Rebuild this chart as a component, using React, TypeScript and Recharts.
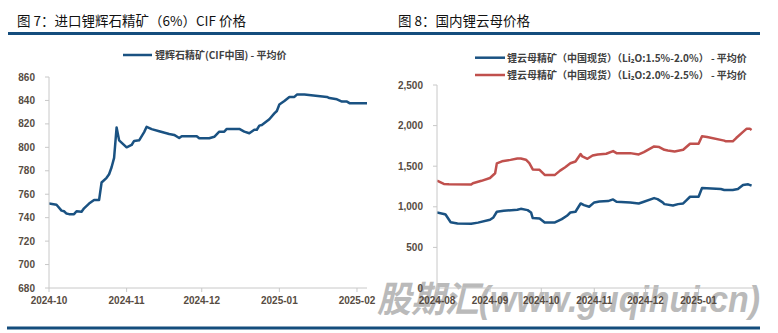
import React from 'react';
import { LineChart, Line, XAxis, YAxis } from 'recharts';

// ---------- Figure 7: imported spodumene concentrate (6%) CIF ----------
const cifDates = [
  '2024-10-01', '2024-10-04', '2024-10-06', '2024-10-07', '2024-10-08', '2024-10-09', '2024-10-11',
  '2024-10-12', '2024-10-14', '2024-10-15', '2024-10-17', '2024-10-19', '2024-10-21', '2024-10-22',
  '2024-10-24', '2024-10-25', '2024-10-26', '2024-10-27', '2024-10-28', '2024-10-29', '2024-11-01',
  '2024-11-03', '2024-11-04', '2024-11-06', '2024-11-08', '2024-11-09', '2024-11-11', '2024-11-14',
  '2024-11-18', '2024-11-20', '2024-11-22', '2024-11-23', '2024-11-29', '2024-11-30', '2024-12-04',
  '2024-12-06', '2024-12-08', '2024-12-10', '2024-12-11', '2024-12-16', '2024-12-18', '2024-12-20',
  '2024-12-22', '2024-12-23', '2024-12-24', '2024-12-25', '2024-12-28', '2024-12-30', '2024-12-31',
  '2025-01-01', '2025-01-03', '2025-01-05', '2025-01-07', '2025-01-08', '2025-01-11', '2025-01-20',
  '2025-01-21', '2025-01-24', '2025-01-26', '2025-01-28', '2025-01-29', '2025-02-05',
];
const cifValues = [
  752, 751, 746, 745.5, 743.5, 743, 743,
  745.5, 745, 748, 752, 755, 755, 770,
  774, 777, 783, 791, 817, 806, 800,
  802, 805.5, 806, 813, 817.5, 815.5, 813.7,
  811.4, 810.6, 808, 809.5, 809.5, 807.7, 807.7,
  809, 813.4, 813.4, 815.7, 815.7, 813.4, 812,
  815, 815, 818.5, 819, 824, 829, 831,
  836.5, 839.5, 843, 843, 845, 845, 843,
  842, 841, 839, 839, 837.7, 837.7,
];
const fig7XTicks = ['2024-10', '2024-11', '2024-12', '2025-01', '2025-02'];
const fig7YTicks = [680, 700, 720, 740, 760, 780, 800, 820, 840, 860];

// ---------- Figure 8: domestic lepidolite prices ----------
const lep15Dates = [
  '2024-08-01', '2024-08-05', '2024-08-06', '2024-08-09', '2024-08-13', '2024-08-21', '2024-08-25',
  '2024-09-01', '2024-09-03', '2024-09-05', '2024-09-09', '2024-09-17', '2024-09-19', '2024-09-23',
  '2024-09-25', '2024-09-26', '2024-09-30', '2024-10-03', '2024-10-09', '2024-10-13', '2024-10-16',
  '2024-10-18', '2024-10-21', '2024-10-24', '2024-10-26', '2024-10-29', '2024-11-01', '2024-11-04',
  '2024-11-09', '2024-11-12', '2024-11-14', '2024-11-22', '2024-11-27', '2024-11-30', '2024-12-06',
  '2024-12-08', '2024-12-11', '2024-12-12', '2024-12-17', '2024-12-20', '2024-12-23', '2024-12-25',
  '2024-12-27', '2025-01-01', '2025-01-03', '2025-01-14', '2025-01-16', '2025-01-21', '2025-01-24',
  '2025-01-27', '2025-01-30', '2025-02-01',
];
const lep15Values = [
  930, 912, 905, 810, 795, 790, 805,
  840, 869, 939, 951, 963, 975, 959,
  930, 861, 857, 807, 807, 848, 889,
  930, 939, 1041, 1020, 1000, 1054, 1066,
  1070, 1091, 1062, 1054, 1041, 1062, 1107,
  1095, 1054, 1033, 1017, 1033, 1041, 1083,
  1124, 1124, 1231, 1219, 1207, 1207, 1219,
  1269, 1277, 1260,
];
const lep20Dates = [
  '2024-08-01', '2024-08-05', '2024-08-08', '2024-08-21', '2024-08-22', '2024-08-27', '2024-09-01',
  '2024-09-04', '2024-09-05', '2024-09-08', '2024-09-13', '2024-09-17', '2024-09-19', '2024-09-22',
  '2024-09-24', '2024-09-26', '2024-09-30', '2024-10-03', '2024-10-09', '2024-10-12', '2024-10-15',
  '2024-10-18', '2024-10-21', '2024-10-24', '2024-10-25', '2024-10-28', '2024-10-31', '2024-11-03',
  '2024-11-08', '2024-11-12', '2024-11-14', '2024-11-22', '2024-11-27', '2024-11-30', '2024-12-06',
  '2024-12-09', '2024-12-12', '2024-12-14', '2024-12-18', '2024-12-23', '2024-12-27', '2025-01-01',
  '2025-01-03', '2025-01-06', '2025-01-16', '2025-01-17', '2025-01-21', '2025-01-23', '2025-01-27',
  '2025-01-29', '2025-01-31', '2025-02-01',
];
const lep20Values = [
  1322, 1282, 1278, 1275, 1290, 1320, 1355,
  1413, 1535, 1560, 1578, 1595, 1595, 1580,
  1537, 1460, 1455, 1393, 1393, 1446, 1488,
  1537, 1558, 1650, 1620, 1591, 1632, 1645,
  1653, 1686, 1661, 1661, 1645, 1674, 1744,
  1736, 1702, 1694, 1682, 1702, 1777, 1777,
  1870, 1860, 1815, 1806, 1806, 1847, 1922,
  1960, 1960, 1945,
];
const fig8XTicks = ['2024-08', '2024-09', '2024-10', '2024-11', '2024-12', '2025-01'];
const fig8YTicks = [0, 500, 1000, 1500, 2000, 2500];

const fig7Title = '图 7：进口锂辉石精矿（6%）CIF 价格';
const fig8Title = '图 8：国内锂云母价格';
const fig7Legend = '锂辉石精矿(CIF中国) - 平均价';
const fig8Legend = [
  '锂云母精矿（中国现货）（Li₂O:1.5%-2.0%） - 平均价',
  '锂云母精矿（中国现货）（Li₂O:2.0%-2.5%） - 平均价',
];
const watermark = '股期汇(www.guqihui.cn)';

const toDay = (d: string) => Math.round(Date.parse(d + 'T00:00:00Z') / 86400000);
const monthDay = (m: string) => toDay(m + '-01');

const BLUE = '#1a5282';
const RED = '#c0504d';
const BAR = '#144d7d';
const AXIS = '#c8c8c8';
const TICK = { fontSize: 10, fontWeight: 700, fill: '#574c42', fontFamily: '"Liberation Sans", Arial, sans-serif' };
const CJK = '"Noto Sans CJK SC", "Noto Sans", sans-serif';

const cifData = cifDates.map((d, i) => ({ t: toDay(d), v: cifValues[i] }));
const lep15Data = lep15Dates.map((d, i) => ({ t: toDay(d), v: lep15Values[i] }));
const lep20Data = lep20Dates.map((d, i) => ({ t: toDay(d), v: lep20Values[i] }));

const f7Start = monthDay(fig7XTicks[0]);
const f8Start = monthDay(fig8XTicks[0]);
const f7TickVals = fig7XTicks.map(monthDay);
const f8TickVals = fig8XTicks.map(monthDay);
const f7Label = (v: number) => fig7XTicks[f7TickVals.indexOf(v)] ?? '';
const f8Label = (v: number) => fig8XTicks[f8TickVals.indexOf(v)] ?? '';

export default function App() {
  return (
    <div style={{ position: 'absolute', left: 0, top: 0, width: 778, height: 333, background: '#fff', overflow: 'hidden' }}>
      <svg width={778} height={333} style={{ position: 'absolute', left: 0, top: 0 }}>
        <text
          x={377}
          y={312}
          fontSize={36}
          fontStyle="italic"
          fontWeight={700}
          fill="#bababa"
          fontFamily={'"Liberation Sans", Arial, "Noto Sans CJK SC", sans-serif'}
          textLength={383}
          lengthAdjust="spacingAndGlyphs"
        >
          {watermark}
        </text>
        <text x={17} y={26} fontSize={13.5} fill="#111" fontFamily={CJK}>{fig7Title}</text>
        <text x={398} y={26} fontSize={13.5} fill="#111" fontFamily={CJK}>{fig8Title}</text>
        <rect x={8} y={32} width={752} height={3} fill={BAR} />
        <rect x={7} y={326.5} width={753} height={3} fill={BAR} />
        <line x1={123} y1={55} x2={152} y2={55} stroke={BLUE} strokeWidth={2.5} />
        <text x={155} y={58.5} fontSize={10} fontWeight={700} fill="#404040" fontFamily={CJK}>{fig7Legend}</text>
        <line x1={475} y1={57.7} x2={505} y2={57.7} stroke={BLUE} strokeWidth={2.5} />
        <text x={507} y={61.5} fontSize={10} fontWeight={700} fill="#404040" fontFamily={CJK}>{fig8Legend[0]}</text>
        <line x1={475} y1={75} x2={505} y2={75} stroke={RED} strokeWidth={2.5} />
        <text x={507} y={79} fontSize={10} fontWeight={700} fill="#404040" fontFamily={CJK}>{fig8Legend[1]}</text>
      </svg>

      <div style={{ position: 'absolute', left: 0, top: 0 }}>
        <LineChart width={390} height={333} margin={{ top: 77, right: 23, bottom: 25, left: 0 }}>
          <XAxis
            type="number"
            dataKey="t"
            domain={[f7Start, f7Start + 127]}
            ticks={f7TickVals}
            tickFormatter={f7Label}
            height={20}
            tick={TICK}
            tickSize={4}
            tickMargin={5}
            axisLine={{ stroke: AXIS }}
            tickLine={{ stroke: AXIS }}
            allowDataOverflow
          />
          <YAxis
            type="number"
            domain={[680, 860]}
            ticks={fig7YTicks}
            width={49}
            tick={TICK}
            tickSize={4}
            tickMargin={10}
            axisLine={{ stroke: AXIS }}
            tickLine={{ stroke: AXIS }}
            allowDataOverflow
          />
          <Line
            data={cifData}
            dataKey="v"
            type="linear"
            stroke={BLUE}
            strokeWidth={2.5}
            dot={false}
            activeDot={false}
            isAnimationActive={false}
            strokeLinejoin="round"
          />
        </LineChart>
      </div>

      <div style={{ position: 'absolute', left: 390, top: 0 }}>
        <LineChart width={388} height={333} margin={{ top: 85, right: 23, bottom: 25, left: 0 }}>
          <XAxis
            type="number"
            dataKey="t"
            domain={[f8Start, f8Start + 186]}
            ticks={f8TickVals}
            tickFormatter={f8Label}
            height={20}
            tick={TICK}
            tickSize={4}
            tickMargin={5}
            axisLine={{ stroke: AXIS }}
            tickLine={{ stroke: AXIS }}
            allowDataOverflow
          />
          <YAxis
            type="number"
            domain={[0, 2500]}
            ticks={fig8YTicks}
            width={47}
            tick={TICK}
            tickSize={4}
            tickMargin={10}
            tickFormatter={(v: number) => v.toLocaleString('en-US')}
            axisLine={{ stroke: AXIS }}
            tickLine={{ stroke: AXIS }}
            allowDataOverflow
          />
          <Line
            data={lep15Data}
            dataKey="v"
            type="linear"
            stroke={BLUE}
            strokeWidth={2.5}
            dot={false}
            activeDot={false}
            isAnimationActive={false}
            strokeLinejoin="round"
          />
          <Line
            data={lep20Data}
            dataKey="v"
            type="linear"
            stroke={RED}
            strokeWidth={2.5}
            dot={false}
            activeDot={false}
            isAnimationActive={false}
            strokeLinejoin="round"
          />
        </LineChart>
      </div>
    </div>
  );
}
